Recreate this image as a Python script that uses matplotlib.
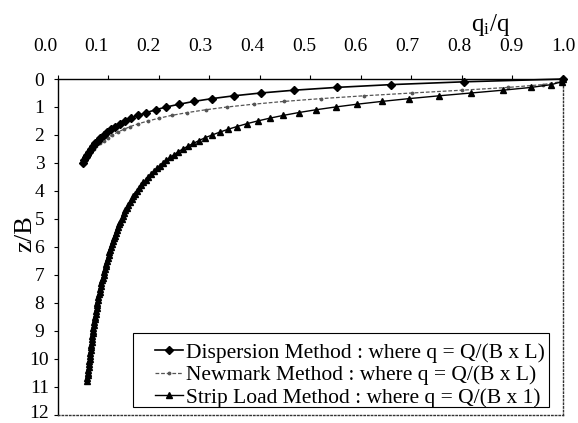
import matplotlib
matplotlib.use("Agg")
import matplotlib.pyplot as plt
from matplotlib.patches import Rectangle
from matplotlib.transforms import ScaledTranslation

plt.rcParams["font.family"] = ["Liberation Serif", "DejaVu Serif"]
plt.rcParams["mathtext.fontset"] = "custom"
plt.rcParams["mathtext.rm"] = "Liberation Serif"
plt.rcParams["mathtext.it"] = "Liberation Serif:italic"

# Depth ratio z/B and stress ratio qi/q for each method
disp_depth = [0.0, 0.1, 0.2, 0.3, 0.4, 0.5, 0.6, 0.7, 0.8, 0.9, 1.0,
              1.1, 1.2, 1.3, 1.4, 1.5, 1.6, 1.7, 1.8, 1.9, 2.0,
              2.1, 2.2, 2.3, 2.4, 2.5, 2.6, 2.7, 2.8, 2.9, 3.0]
disp_q = [1.000, 0.804, 0.660, 0.552, 0.468, 0.402, 0.349, 0.306, 0.270, 0.241, 0.215,
          0.194, 0.176, 0.160, 0.146, 0.134, 0.123, 0.114, 0.106, 0.098, 0.091,
          0.085, 0.080, 0.075, 0.070, 0.066, 0.062, 0.059, 0.056, 0.053, 0.050]

newmark_depth = [0.0, 0.1, 0.2, 0.3, 0.4, 0.5, 0.6, 0.7, 0.8, 0.9, 1.0,
                 1.1, 1.2, 1.3, 1.4, 1.5, 1.6, 1.7, 1.8, 1.9, 2.0,
                 2.1, 2.2, 2.3, 2.4, 2.5, 2.6, 2.7, 2.8, 2.9, 3.0]
newmark_q = [1.000, 0.994, 0.960, 0.892, 0.800, 0.701, 0.606, 0.522, 0.449, 0.388, 0.336,
             0.293, 0.257, 0.226, 0.201, 0.179, 0.160, 0.144, 0.131, 0.119, 0.108,
             0.099, 0.091, 0.084, 0.077, 0.072, 0.067, 0.062, 0.058, 0.054, 0.051]

strip_depth = [0.0, 0.1, 0.2, 0.3, 0.4, 0.5, 0.6, 0.7, 0.8, 0.9,
               1.0, 1.1, 1.2, 1.3, 1.4, 1.5, 1.6, 1.7, 1.8, 1.9,
               2.0, 2.1, 2.2, 2.3, 2.4, 2.5, 2.6, 2.7, 2.8, 2.9,
               3.0, 3.1, 3.2, 3.3, 3.4, 3.5, 3.6, 3.7, 3.8, 3.9,
               4.0, 4.1, 4.2, 4.3, 4.4, 4.5, 4.6, 4.7, 4.8, 4.9,
               5.0, 5.1, 5.2, 5.3, 5.4, 5.5, 5.6, 5.7, 5.8, 5.9,
               6.0, 6.1, 6.2, 6.3, 6.4, 6.5, 6.6, 6.7, 6.8, 6.9,
               7.0, 7.1, 7.2, 7.3, 7.4, 7.5, 7.6, 7.7, 7.8, 7.9,
               8.0, 8.1, 8.2, 8.3, 8.4, 8.5, 8.6, 8.7, 8.8, 8.9,
               9.0, 9.1, 9.2, 9.3, 9.4, 9.5, 9.6, 9.7, 9.8, 9.9,
               10.0, 10.1, 10.2, 10.3, 10.4, 10.5, 10.6, 10.7, 10.8]
strip_q = [1.000, 0.997, 0.977, 0.937, 0.881, 0.818, 0.755, 0.696, 0.642, 0.593,
           0.550, 0.511, 0.477, 0.447, 0.420, 0.396, 0.374, 0.355, 0.337, 0.321,
           0.306, 0.292, 0.280, 0.269, 0.258, 0.248, 0.239, 0.231, 0.223, 0.215,
           0.208, 0.202, 0.196, 0.190, 0.185, 0.179, 0.175, 0.170, 0.166, 0.162,
           0.158, 0.154, 0.150, 0.147, 0.143, 0.140, 0.137, 0.134, 0.132, 0.129,
           0.127, 0.124, 0.122, 0.119, 0.117, 0.115, 0.113, 0.111, 0.109, 0.107,
           0.106, 0.104, 0.102, 0.101, 0.099, 0.098, 0.096, 0.095, 0.093, 0.092,
           0.091, 0.089, 0.088, 0.087, 0.086, 0.085, 0.084, 0.083, 0.081, 0.080,
           0.079, 0.078, 0.078, 0.077, 0.076, 0.075, 0.074, 0.073, 0.072, 0.071,
           0.071, 0.070, 0.069, 0.068, 0.068, 0.067, 0.066, 0.066, 0.065, 0.064,
           0.064, 0.063, 0.062, 0.062, 0.061, 0.061, 0.060, 0.059, 0.059]

x_ticks = [0.0, 0.1, 0.2, 0.3, 0.4, 0.5, 0.6, 0.7, 0.8, 0.9, 1.0]
y_ticks = [0, 1, 2, 3, 4, 5, 6, 7, 8, 9, 10, 11, 12]

labels = ["Dispersion Method : where q = Q/(B x L)",
          "Newmark Method : where q = Q/(B x L)",
          "Strip Load Method : where q = Q/(B x 1)"]

fig = plt.figure(figsize=(5.78, 4.23), dpi=100)
ax = fig.add_axes([0.0995, 0.0200, 0.8746, 0.7932])

l1, = ax.plot(disp_q, disp_depth, color="black", lw=1.2, marker="D",
              markersize=4.4, clip_on=False, zorder=4)
l2, = ax.plot(newmark_q, newmark_depth, color="#555555", lw=0.9,
              linestyle=(0, (3, 1.5)), marker=".", markersize=3.5,
              clip_on=False, zorder=3)
l3, = ax.plot(strip_q, strip_depth, color="black", lw=1.0, marker="^",
              markersize=4.5, clip_on=False, zorder=3)

ax.set_xlim(0, 1.0)
ax.set_ylim(12, 0)
ax.xaxis.tick_top()
ax.set_xticks(x_ticks)
ax.set_xticklabels([f"{v:.1f}" for v in x_ticks])
ax.set_yticks(y_ticks)
ax.set_yticklabels([str(v) for v in y_ticks])
ax.tick_params(axis="x", direction="out", length=3, width=0.8, pad=14,
               labelsize=14)
ax.tick_params(axis="y", direction="out", length=3, width=0.8, pad=10,
               labelsize=14)
ylabs = ax.get_yticklabels()
for lab in ylabs:
    lab.set_horizontalalignment("center")
# keep the bottom label inside the canvas
ylabs[-1].set_transform(ylabs[-1].get_transform()
                        + ScaledTranslation(0, 2.5 / 72.0, fig.dpi_scale_trans))

# top labels are spread slightly wider than the tick spacing
for v, lab in zip(x_ticks, ax.get_xticklabels()):
    shift = ScaledTranslation(-9.0 * (1.0 - v) / 72.0, 0, fig.dpi_scale_trans)
    lab.set_transform(lab.get_transform() + shift)

for side in ("top", "left"):
    ax.spines[side].set_linewidth(1.0)
    ax.spines[side].set_color("black")
for side in ("right", "bottom"):
    ax.spines[side].set_linewidth(1.0)
    ax.spines[side].set_linestyle(":")
    ax.spines[side].set_color("#333333")

# legend frame and entries
ax.add_patch(Rectangle((0.149, 0.021), 0.823, 0.222, transform=ax.transAxes,
                       facecolor="white", edgecolor="black", lw=0.8, zorder=5))
leg = ax.legend([l1, l2, l3], labels, loc="center left",
                bbox_to_anchor=(0.193, 0.117), frameon=False, fontsize=15.5,
                borderpad=0, borderaxespad=0, handlelength=1.3,
                handletextpad=0.15, labelspacing=0.12)
leg.set_zorder(6)

fig.text(510 / 578, 1 - 31 / 423, r"q$_{\rm i}$/q", ha="right",
         va="baseline", fontsize=18)
fig.text(25 / 578, 1 - 234 / 423, "z/B", rotation=90, ha="center",
         va="center", fontsize=19)

fig.savefig("out.png", dpi=100)
